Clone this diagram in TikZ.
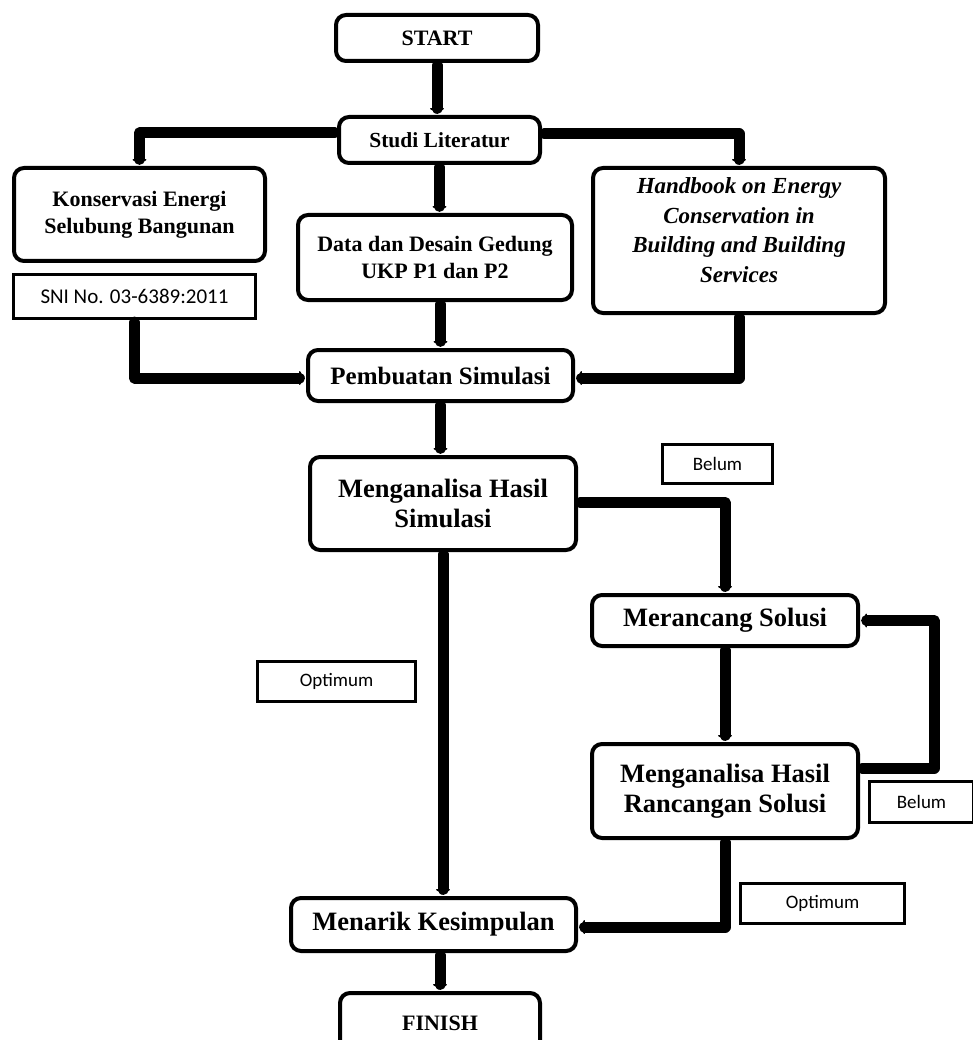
\documentclass[tikz,border=0pt]{standalone}
\usepackage{fontspec}
\setmainfont{Liberation Serif}
\newfontfamily\labfont{Carlito}
\usetikzlibrary{arrows.meta}
\newcommand{\fs}[2]{\fontsize{#1}{#2}\selectfont}
\begin{document}
\begin{tikzpicture}[x=1pt,y=-1pt,
  box/.style={draw, line width=4pt, rounded corners=10pt, inner sep=0pt, align=center},
  tag/.style={draw, line width=3pt, inner sep=0pt, align=center},
  link/.style={line width=11pt, line cap=round, line join=round, shorten <=2pt, shorten >=2pt,
    -{Triangle[length=5pt,width=17pt,round]}}
]
\useasboundingbox[fill=white] (0,0) rectangle (973,1040);

\node[box, minimum width=202pt, minimum height=46pt, font=\bfseries\fs{22}{26}] (start) at (437,38) {START};
\node[box, minimum width=201pt, minimum height=46pt, font=\bfseries\fs{21.5}{25}] (studi) at (439.5,140) {Studi Literatur};
\node[box, minimum width=251pt, minimum height=93pt, font=\bfseries\fs{22}{27}] (kons) at (139.5,214.5) {Konservasi Energi\\Selubung Bangunan};
\node[tag, minimum width=242pt, minimum height=44pt, font=\labfont\fs{21}{24}] (sni) at (134.5,296.5) {SNI No. 03-6389:2011};
\node[box, minimum width=274pt, minimum height=85pt, font=\bfseries\fs{22}{27}] (data) at (435,257.5) {Data dan Desain Gedung\\UKP P1 dan P2};
\node[box, minimum width=292pt, minimum height=145pt] (hb) at (739,240.5) {};
\node[align=center, font=\bfseries\itshape\fs{23}{29.5}, inner sep=0pt] (hbt) at (739,230) {Handbook on Energy\\Conservation in\\Building and Building\\Services};
\node[box, minimum width=265pt, minimum height=51pt, font=\bfseries\fs{25}{29}] (pemb) at (440.5,375.5) {Pembuatan Simulasi};
\node[box, minimum width=266pt, minimum height=93pt, font=\bfseries\fs{26.5}{30}] (mhs) at (443,503.5) {Menganalisa Hasil\\Simulasi};
\node[tag, minimum width=110pt, minimum height=39pt, font=\labfont\fs{19}{22}] (belum1) at (717.5,464) {Belum};
\node[box, minimum width=266pt, minimum height=51pt, font=\bfseries\fs{26.5}{30}] (meran) at (725,620.5) {Merancang Solusi};
\node[tag, minimum width=158pt, minimum height=40pt, font=\labfont\fs{19}{22}] (opt1) at (336.5,681.5) {Optimum};
\node[box, minimum width=266pt, minimum height=94pt, font=\bfseries\fs{26.5}{30}] (mhr) at (725,791) {Menganalisa Hasil\\Rancangan Solusi};
\node[tag, minimum width=104pt, minimum height=41pt, font=\labfont\fs{19}{22}] (belum2) at (921.5,802) {Belum};
\node[tag, minimum width=164pt, minimum height=40pt, font=\labfont\fs{19}{22}] (opt2) at (822.5,903.5) {Optimum};
\node[box, minimum width=285pt, minimum height=53pt, font=\bfseries\fs{26.5}{30}] (men) at (433.5,924.5) {Menarik Kesimpulan};
\node[box, minimum width=200pt, minimum height=60pt, font=\bfseries\fs{22}{26}] (fin) at (440,1023) {FINISH};

\draw[link] (start.south) -- (start.south |- studi.north);
\draw[link] ([yshift=7pt]studi.west) -| (kons.north);
\draw[link] ([yshift=6pt]studi.east) -| (hb.north);
\draw[link] (studi.south) -- (studi.south |- data.north);
\draw[link] (data.south -| pemb.north) -- (pemb.north);
\draw[link] (sni.south) |- ([yshift=-2.5pt]pemb.west);
\draw[link] (hb.south) |- ([yshift=-2.5pt]pemb.east);
\draw[link] (pemb.south) -- (pemb.south |- mhs.north);
\draw[link] ([yshift=1pt]mhs.east) -| (meran.north);
\draw[link] (mhs.south) -- (mhs.south |- men.north);
\draw[link] (meran.south) -- (mhr.north);
\draw[link] ([yshift=23pt]mhr.east) -- ++(74,0) |- (meran.east);
\draw[link] (mhr.south) |- ([yshift=-2.5pt]men.east);
\draw[link] (men.south -| fin.north) -- (fin.north);
\end{tikzpicture}
\end{document}
